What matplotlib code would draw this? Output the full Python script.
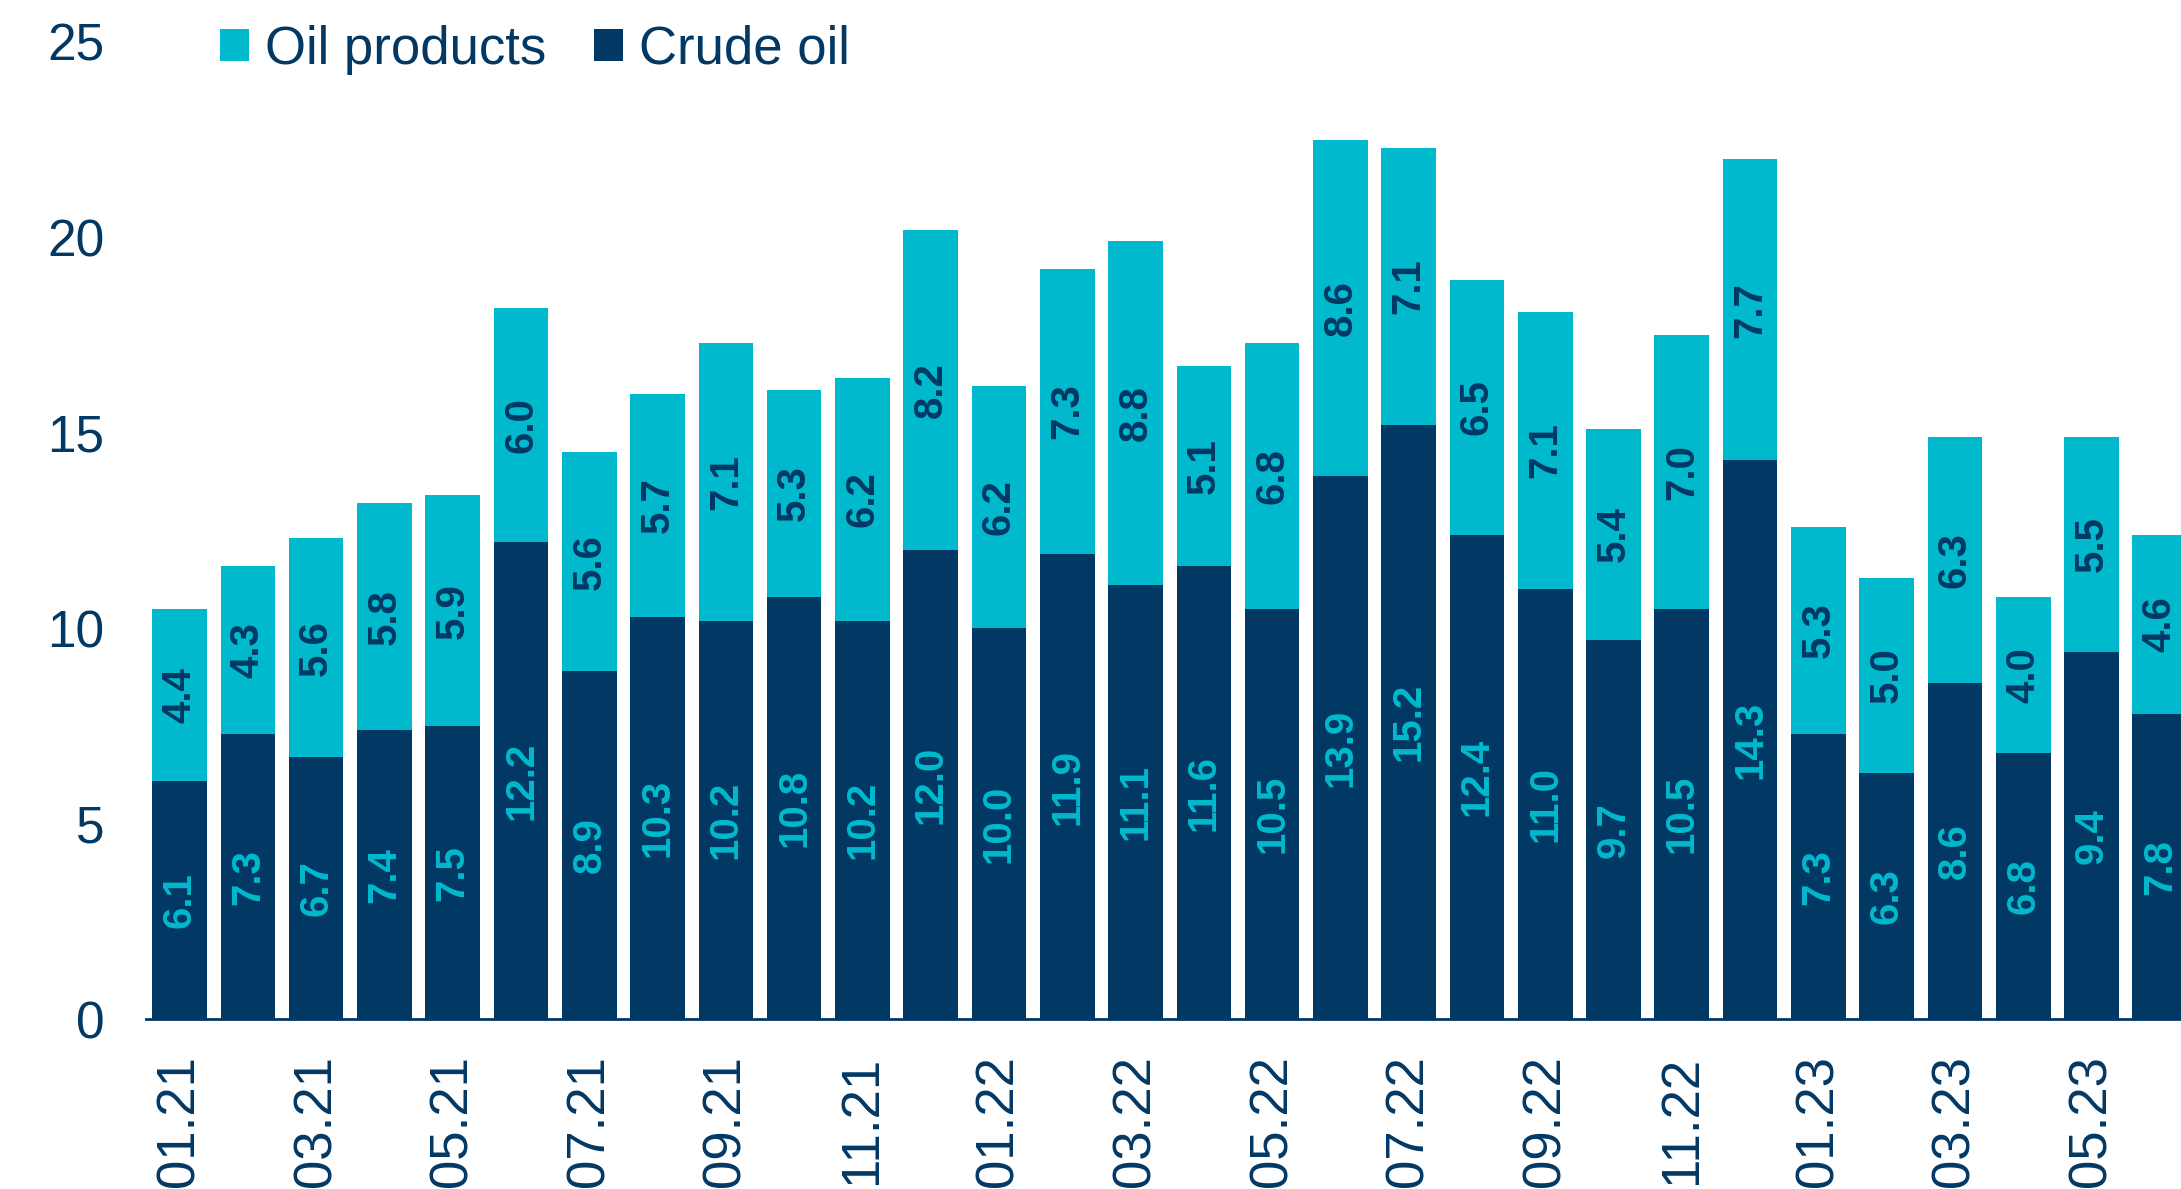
import numpy as np
import matplotlib
matplotlib.use("Agg")
import matplotlib.pyplot as plt

months = ["01.21", "02.21", "03.21", "04.21", "05.21", "06.21", "07.21", "08.21",
          "09.21", "10.21", "11.21", "12.21", "01.22", "02.22", "03.22", "04.22",
          "05.22", "06.22", "07.22", "08.22", "09.22", "10.22", "11.22", "12.22",
          "01.23", "02.23", "03.23", "04.23", "05.23", "06.23"]
crude = [6.1, 7.3, 6.7, 7.4, 7.5, 12.2, 8.9, 10.3, 10.2, 10.8, 10.2, 12.0,
         10.0, 11.9, 11.1, 11.6, 10.5, 13.9, 15.2, 12.4, 11.0, 9.7, 10.5, 14.3,
         7.3, 6.3, 8.6, 6.8, 9.4, 7.8]
products = [4.4, 4.3, 5.6, 5.8, 5.9, 6.0, 5.6, 5.7, 7.1, 5.3, 6.2, 8.2,
            6.2, 7.3, 8.8, 5.1, 6.8, 8.6, 7.1, 6.5, 7.1, 5.4, 7.0, 7.7,
            5.3, 5.0, 6.3, 4.0, 5.5, 4.6]

navy = "#023864"
cyan = "#00B9CD"

plt.rcParams['font.family'] = ['Liberation Sans', 'DejaVu Sans']

fig = plt.figure(figsize=(21.81, 11.89), dpi=100)
ax = fig.add_axes([0.067, 0.1427, 0.943, 0.822])

x = np.arange(len(months))
crude = np.array(crude)
products = np.array(products)
b1 = ax.bar(x, crude, width=0.8, color=navy, label="Crude oil", zorder=2)
b2 = ax.bar(x, products, width=0.8, bottom=crude, color=cyan, label="Oil products", zorder=2)

# value labels inside the segments
for i in range(len(x)):
    ax.text(x[i], crude[i] / 2, f"{crude[i]:.1f}", rotation=90, ha="center", va="center",
            color=cyan, fontsize=29, fontweight="bold")
    ax.text(x[i], crude[i] + products[i] / 2, f"{products[i]:.1f}", rotation=90,
            ha="center", va="center", color=navy, fontsize=29, fontweight="bold")

ax.set_xlim(-0.49, 29.63)
ax.set_ylim(0, 25)
ax.set_yticks([0, 5, 10, 15, 20, 25])
ax.set_xticks(x[::2])
ax.set_xticklabels(months[::2], rotation=90, va="top", ha="center")
ax.tick_params(axis="x", length=0, pad=26, labelsize=38, labelcolor=navy)
ax.tick_params(axis="y", length=0, pad=30, labelsize=37, labelcolor=navy)

for s in ["top", "right", "left"]:
    ax.spines[s].set_visible(False)
ax.spines["bottom"].set_color(navy)
ax.spines["bottom"].set_linewidth(2)

ax.legend(handles=[b2, b1], loc="upper left", bbox_to_anchor=(0.013, 1.066), ncol=2,
          frameon=False, fontsize=38, labelcolor=navy, handlelength=0.55,
          handleheight=0.55, handletextpad=0.3, columnspacing=0.9)

fig.savefig("out.png", dpi=100)
